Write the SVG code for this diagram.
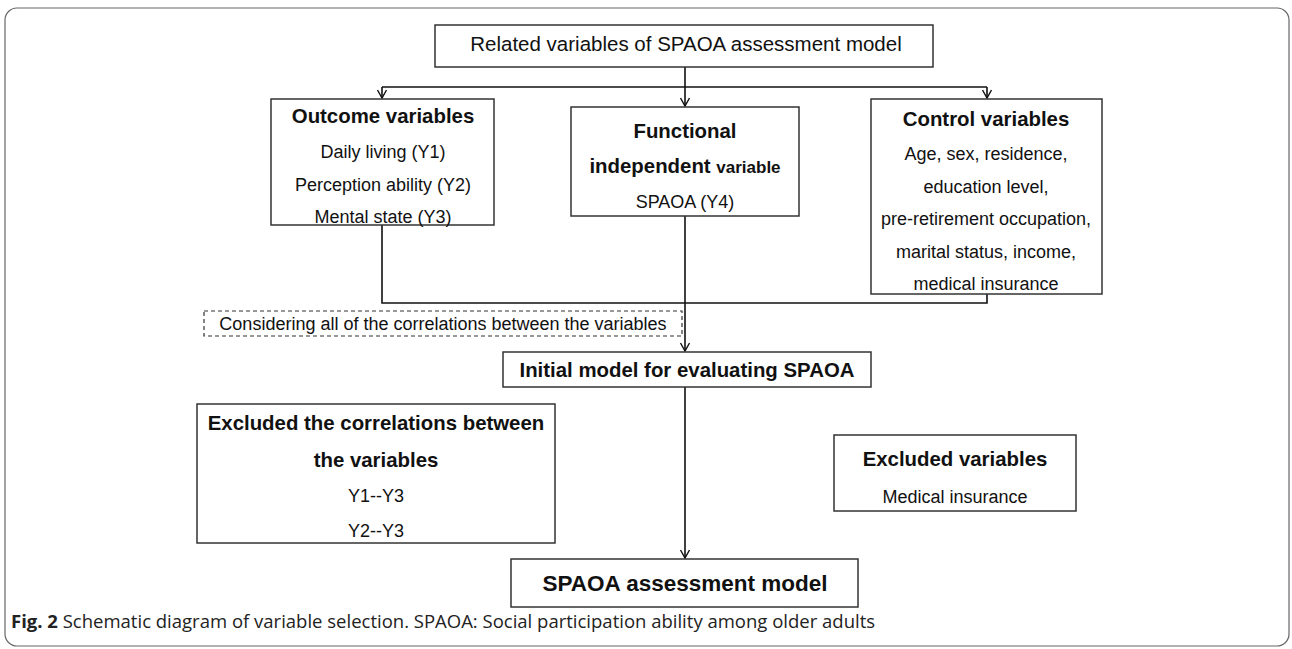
<svg xmlns="http://www.w3.org/2000/svg" width="1292" height="649" viewBox="0 0 1292 649">
<defs>
<marker id="arr" markerWidth="12" markerHeight="12" refX="10" refY="6" orient="auto" markerUnits="userSpaceOnUse" viewBox="0 0 12 12">
<polyline points="2,1.5 10,6 2,10.5" fill="none" stroke="#111" stroke-width="1.4"/>
</marker>
</defs>
<style>
.box{fill:#fff;stroke:#333;stroke-width:1.5}
.dash{fill:none;stroke:#333;stroke-width:1.2;stroke-dasharray:4,3}
.ln{fill:none;stroke:#111;stroke-width:1.6}
.t{font-family:"Liberation Sans",Arial,sans-serif;fill:#111;text-anchor:middle}
.r{font-size:18px}
.b{font-weight:bold;font-size:20.4px}
.cap{font-family:"Open Sans","Noto Sans",sans-serif;fill:#222;font-size:18.5px}
</style>
<rect x="5" y="8" width="1284" height="638" rx="12" fill="#fff" stroke="#666" stroke-width="1.2"/>

<g id="connectors">
<path class="ln" d="M685,67 V87"/>
<path class="ln" d="M382,87 H987"/>
<path class="ln" d="M382,87 V98" marker-end="url(#arr)"/>
<path class="ln" d="M685,87 V106" marker-end="url(#arr)"/>
<path class="ln" d="M987,87 V98" marker-end="url(#arr)"/>
<path class="ln" d="M382,225 V303 H987 V294"/>
<path class="ln" d="M685,216 V351" marker-end="url(#arr)"/>
<path class="ln" d="M685,387 V558" marker-end="url(#arr)"/>
</g>

<g id="top">
<rect class="box" x="435" y="25" width="498" height="42"/>
<text class="t" x="686" y="51" font-size="20.5">Related variables of SPAOA assessment model</text>
</g>

<g id="outcome">
<rect class="box" x="271" y="99" width="223" height="126"/>
<text class="t b" x="383" y="123">Outcome variables</text>
<text class="t r" x="383" y="158">Daily living (Y1)</text>
<text class="t r" x="383" y="191">Perception ability (Y2)</text>
<text class="t r" x="383" y="223">Mental state (Y3)</text>
</g>

<g id="functional">
<rect class="box" x="571" y="107" width="228" height="109"/>
<text class="t b" x="685" y="138">Functional</text>
<text class="t b" x="685" y="173">independent <tspan font-size="17">variable</tspan></text>
<text class="t r" x="685" y="208">SPAOA (Y4)</text>
</g>

<g id="control">
<rect class="box" x="871" y="99" width="231" height="195"/>
<text class="t b" x="986" y="126">Control variables</text>
<text class="t r" x="986" y="160">Age, sex, residence,</text>
<text class="t r" x="986" y="193">education level,</text>
<text class="t r" x="986" y="225">pre-retirement occupation,</text>
<text class="t r" x="986" y="258">marital status, income,</text>
<text class="t r" x="986" y="290">medical insurance</text>
</g>

<g id="considering">
<rect class="dash" x="204" y="311" width="478" height="25"/>
<text class="t r" x="443" y="330">Considering all of the correlations between the variables</text>
</g>

<g id="initial">
<rect class="box" x="503" y="352" width="368" height="35"/>
<text class="t b" x="687" y="377">Initial model for evaluating SPAOA</text>
</g>

<g id="excluded-correlations">
<rect class="box" x="197" y="404" width="358" height="139"/>
<text class="t b" x="376" y="430">Excluded the correlations between</text>
<text class="t b" x="376" y="467">the variables</text>
<text class="t r" x="376" y="502">Y1--Y3</text>
<text class="t r" x="376" y="537">Y2--Y3</text>
</g>

<g id="excluded-variables">
<rect class="box" x="834" y="435" width="242" height="76"/>
<text class="t b" x="955" y="466">Excluded variables</text>
<text class="t r" x="955" y="503">Medical insurance</text>
</g>

<g id="final">
<rect class="box" x="511" y="559" width="347" height="48"/>
<text class="t" x="685" y="591" font-size="22.5" font-weight="bold">SPAOA assessment model</text>
</g>

<text class="cap" x="11" y="628"><tspan font-weight="bold">Fig. 2</tspan>  Schematic diagram of variable selection. SPAOA: Social participation ability among older adults</text>
</svg>
